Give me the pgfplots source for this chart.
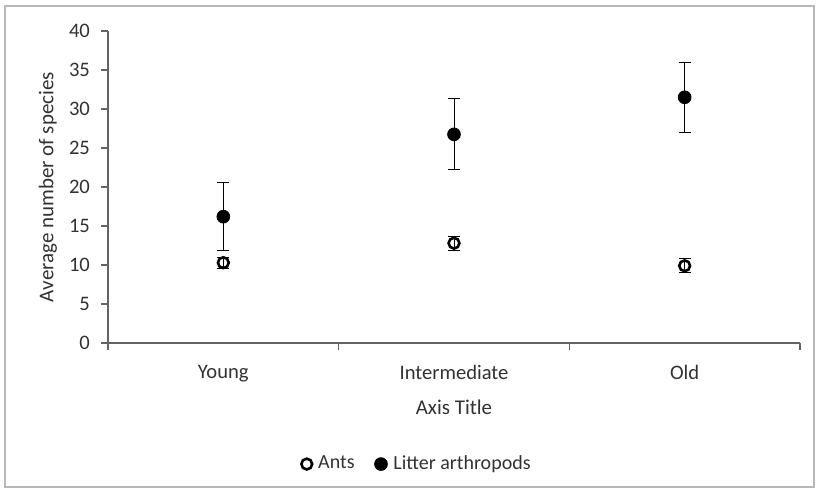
\documentclass[border=0pt]{standalone}
\usepackage{pgfplots}
\pgfplotsset{compat=1.18}
\usepackage{fontspec}
\setmainfont{Carlito}
\definecolor{txt}{RGB}{50,50,50}
\definecolor{axc}{RGB}{100,100,100}
\begin{document}
\begin{tikzpicture}
\path[use as bounding box] (-54pt,-75pt) rectangle (355.5pt,171.5pt);
\draw[black!28, line width=0.9pt] (-51.5pt,-72pt) rectangle (353pt,168.5pt);
\begin{axis}[
  at={(0,0)}, anchor=south west,
  scale only axis, width=346pt, height=156pt,
  xmin=-0.5, xmax=2.5, ymin=0, ymax=40,
  axis x line=bottom, axis y line=left,
  axis line style={-, axc, line width=0.6pt},
  xtick={-0.5,0.5,1.5,2.5}, xticklabels={},
  x tick style={axc, line width=0.6pt},
  extra x ticks={0,1,2}, extra x tick labels={Young,Intermediate,Old},
  extra x tick style={major tick length=0pt, tick style={draw=none}},
  ytick={0,5,...,40},
  y tick style={axc, line width=0.6pt},
  tick align=outside, major tick length=3.5pt,
  /pgf/number format/assume math mode=true,
  tick label style={font=\fontsize{10.3}{12}\selectfont, text=txt},
  yticklabel style={xshift=-2pt},
  xticklabel style={yshift=-7.5pt},
  ylabel={Average number of species},
  ylabel style={font=\fontsize{10.5}{12}\selectfont, text=txt, at={(axis description cs:-0.087,0.5)}, anchor=center},
  xlabel={Axis Title},
  xlabel style={font=\fontsize{10.5}{12}\selectfont, text=txt, at={(axis description cs:0.5,-0.205)}, anchor=center},
  legend style={at={(axis description cs:0.448,-0.388)}, anchor=center, draw=none, fill=none,
    font=\fontsize{10}{12}\selectfont, text=txt, legend columns=2,
    /tikz/every even column/.append style={column sep=8pt},
    /tikz/every odd column/.append style={column sep=1pt}},
  legend cell align=left,
  clip=false,
]
\addplot[only marks, mark=o, mark size=2.7pt, mark options={line width=1.3pt, black, fill=white},
  error bars/.cd, y dir=both, y explicit,
  error bar style={black, line width=0.5pt},
  error mark options={rotate=90, mark size=3pt, line width=0.5pt}]
coordinates {
 (0,10.3) +- (0,0.7)
 (1,12.8) +- (0,0.9)
 (2,9.9) +- (0,0.9)
};
\addlegendentry{Ants}
\addplot[only marks, mark=*, mark size=3.2pt, mark options={black, fill=black},
  error bars/.cd, y dir=both, y explicit,
  error bar style={black, line width=0.5pt},
  error mark options={rotate=90, mark size=3pt, line width=0.5pt}]
coordinates {
 (0,16.2) +- (0,4.4)
 (1,26.75) +- (0,4.55)
 (2,31.5) +- (0,4.5)
};
\addlegendentry{Litter arthropods}
\end{axis}
\end{tikzpicture}
\end{document}
